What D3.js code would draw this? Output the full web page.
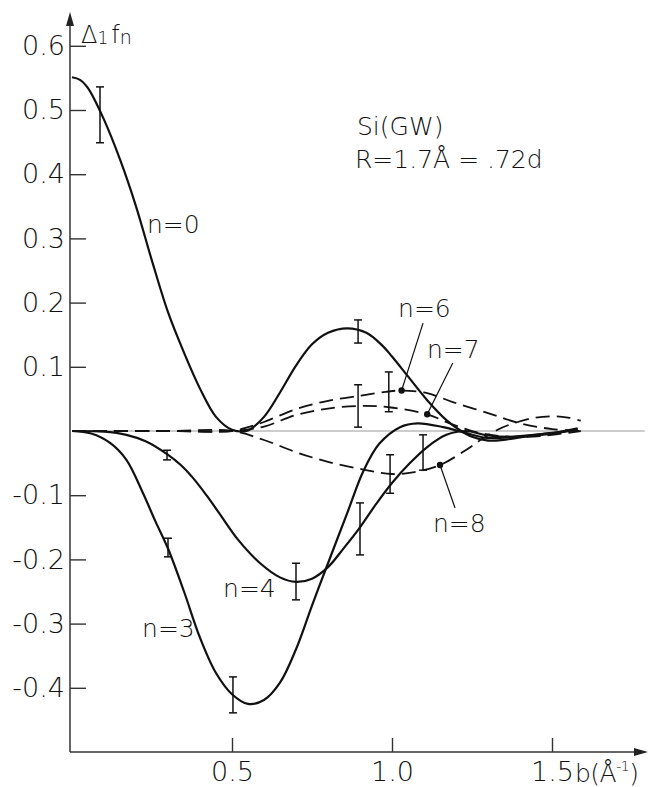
<!DOCTYPE html>
<html>
<head>
<meta charset="utf-8">
<script src="https://cdn.jsdelivr.net/npm/d3@7"></script>
<style>
  body { margin: 0; background: #fff; }
  svg { display: block; font-family: "DejaVu Sans", sans-serif; }
  .tick text { font-family: "DejaVu Sans", sans-serif; font-size: 27px; font-weight: 200; fill: #111; }
  .tick line { stroke: #333; stroke-width: 1.4; }
  .lbl { font-size: 25px; font-weight: 200; fill: #111; }
</style>
</head>
<body>
<svg id="chart" width="649" height="787"></svg>
<script>
// ticks
const xTickValues = [0.5, 1.0, 1.5];
const xTickLabels = ['0.5', '1.0', '1.5'];
const yTickValues = [0.6, 0.5, 0.4, 0.3, 0.2, 0.1, -0.1, -0.2, -0.3, -0.4];
const yTickLabels = ['0.6', '0.5', '0.4', '0.3', '0.2', '0.1', '-0.1', '-0.2', '-0.3', '-0.4'];

// curves [b, Δ1fn]
const n0 = [[0,0.551],[0.025,0.547],[0.05,0.534],[0.1,0.485],[0.15,0.423],[0.2,0.35],[0.25,0.265],[0.3,0.185],
  [0.35,0.122],[0.4,0.066],[0.45,0.022],[0.5,0.002],[0.55,0.001],[0.6,0.022],[0.65,0.06],[0.7,0.102],
  [0.75,0.135],[0.8,0.153],[0.86,0.160],[0.92,0.153],[0.97,0.133],[1.0,0.116],[1.05,0.085],[1.11,0.048],
  [1.17,0.017],[1.21,0.002],[1.25,-0.009],[1.3,-0.015],[1.36,-0.013],[1.45,-0.006],[1.52,-0.002],[1.58,0.004]];
const n3 = [[0,0],[0.06,-0.004],[0.12,-0.019],[0.17,-0.045],[0.222,-0.097],[0.26,-0.14],[0.3,-0.183],
  [0.35,-0.25],[0.4,-0.322],[0.45,-0.377],[0.5,-0.41],[0.55,-0.425],[0.6,-0.419],[0.65,-0.392],
  [0.7,-0.34],[0.75,-0.272],[0.8,-0.206],[0.86,-0.128],[0.91,-0.063],[0.96,-0.02],
  [1.025,0.006],[1.08,0.012],[1.16,0.006],[1.23,-0.003],[1.3,-0.011],[1.4,-0.008],[1.5,-0.003],[1.58,0.003]];
const n4 = [[0,0],[0.1,-0.001],[0.17,-0.006],[0.23,-0.016],[0.297,-0.036],[0.34,-0.053],[0.378,-0.073],
  [0.42,-0.1],[0.46,-0.128],[0.52,-0.17],[0.588,-0.206],[0.65,-0.228],[0.70,-0.235],[0.75,-0.23],
  [0.8,-0.212],[0.85,-0.182],[0.9,-0.15],[0.95,-0.114],[1.0,-0.081],[1.056,-0.05],[1.11,-0.025],
  [1.17,-0.006],[1.23,0.0],[1.3,-0.007],[1.4,-0.009],[1.5,-0.004],[1.58,0.002]];
const n6 = [[0,0],[0.3,0],[0.5,0],[0.55,0.006],[0.6,0.014],[0.7,0.034],[0.8,0.047],[0.9,0.055],
  [0.98,0.061],[1.03,0.063],[1.11,0.059],[1.19,0.045],[1.3,0.028],[1.4,0.012],[1.5,0.003],[1.59,0.0]];
const n7 = [[0,0],[0.3,0],[0.5,0],[0.6,0.007],[0.7,0.025],[0.8,0.035],[0.9,0.039],[0.99,0.037],
  [1.11,0.026],[1.18,0.012],[1.25,0.0],[1.32,-0.007],[1.42,-0.009],[1.5,-0.006],[1.59,0.0]];
const n8 = [[0,0],[0.3,0],[0.5,0],[0.6,-0.014],[0.7,-0.033],[0.8,-0.048],[0.91,-0.06],
  [1.0,-0.067],[1.07,-0.064],[1.15,-0.053],[1.23,-0.03],[1.28,-0.013],[1.33,0.002],[1.38,0.012],
  [1.44,0.02],[1.5,0.023],[1.55,0.021],[1.59,0.016]];

// error bars [b, low, high]
const errBars = [[0.0875,0.449,0.536],[0.894,0.137,0.173],[0.3,-0.196,-0.167],[0.503,-0.439,-0.383],
  [0.297,-0.045,-0.03],[0.7,-0.263,-0.206],[0.9,-0.193,-0.112],[0.994,-0.097,-0.037],
  [1.097,-0.061,-0.006],[0.894,0.006,0.072],[0.99,0.03,0.092]];

// markers with leader lines: [b, v, leader end b, leader end v]
const markers = [[1.03,0.063,1.097,0.168],[1.11,0.026,1.19,0.106],[1.15,-0.053,1.197,-0.12]];

// curve labels [text, b, v]
const curveLabels = [['n=0',0.234,0.308],['n=3',0.219,-0.321],['n=4',0.472,-0.259],
  ['n=6',1.019,0.178],['n=7',1.109,0.114],['n=8',1.128,-0.157]];

const svg = d3.select('#chart');

const xScale = d3.scaleLinear().domain([0, 1.8]).range([72, 648]);
const yScale = d3.scaleLinear().domain([-0.5, 0.65]).range([752, 752 - 1.15 * 642]);

// zero line
svg.append('line')
  .attr('x1', xScale(0)).attr('x2', xScale(1.79))
  .attr('y1', yScale(0)).attr('y2', yScale(0))
  .attr('stroke', '#999').attr('stroke-width', 1.2);

// axes
const xAxis = d3.axisBottom(xScale)
  .tickValues(xTickValues)
  .tickFormat((d, i) => xTickLabels[i])
  .tickSize(-14)
  .tickSizeOuter(0)
  .tickPadding(10);
const yAxis = d3.axisLeft(yScale)
  .tickValues(yTickValues)
  .tickFormat((d, i) => yTickLabels[i])
  .tickSize(-16)
  .tickSizeOuter(0)
  .tickPadding(5);

const xAxisG = svg.append('g')
  .attr('transform', `translate(0, ${yScale(-0.5)})`)
  .call(xAxis);
xAxisG.select('.domain').remove();

const yAxisG = svg.append('g')
  .attr('transform', `translate(${xScale(0) - 2}, 0)`)
  .call(yAxis);
yAxisG.select('.domain').remove();

// axis lines with arrows
const ax0 = xScale(0) - 2, ay0 = yScale(-0.5);
svg.append('line').attr('x1', ax0).attr('x2', ax0).attr('y1', ay0).attr('y2', 22)
  .attr('stroke', '#333').attr('stroke-width', 1.5);
svg.append('path').attr('d', `M${ax0},12 L${ax0 - 4},26 L${ax0 + 4},26 Z`).attr('fill', '#222');
svg.append('line').attr('x1', ax0).attr('x2', 638).attr('y1', ay0).attr('y2', ay0)
  .attr('stroke', '#333').attr('stroke-width', 1.5);
svg.append('path').attr('d', `M648,${ay0} L634,${ay0 - 4} L634,${ay0 + 4} Z`).attr('fill', '#222');

// axis titles
const yTitle = svg.append('text').attr('x', 81).attr('y', 43)
  .attr('font-size', 24).attr('font-weight', 200).attr('fill', '#111');
yTitle.append('tspan').text('Δ');
yTitle.append('tspan').attr('font-size', 17).attr('dy', 1).text('1');
yTitle.append('tspan').attr('dy', -1).attr('dx', 3).text('f');
yTitle.append('tspan').attr('font-size', 19).attr('dy', 1).text('n');

const xTitle = svg.append('text').attr('x', 575).attr('y', 782)
  .attr('font-size', 25).attr('font-weight', 200).attr('fill', '#111')
  .attr('letter-spacing', -0.5);
xTitle.append('tspan').text('b(Å');
xTitle.append('tspan').attr('font-size', 14).attr('dy', -11).text('-1');
xTitle.append('tspan').attr('dy', 11).text(')');

// curves
const line = d3.line()
  .x(d => xScale(d[0]))
  .y(d => yScale(d[1]))
  .curve(d3.curveCatmullRom.alpha(0.5));

[n0, n3, n4].forEach(s => {
  svg.append('path').attr('d', line(s))
    .attr('fill', 'none').attr('stroke', '#111').attr('stroke-width', 2.2);
});
[n6, n7, n8].forEach(s => {
  svg.append('path').attr('d', line(s))
    .attr('fill', 'none').attr('stroke', '#111').attr('stroke-width', 1.8)
    .attr('stroke-dasharray', '14,7');
});

// error bars
const eb = svg.append('g').attr('stroke', '#111').attr('stroke-width', 1.5);
errBars.forEach(([b, lo, hi]) => {
  const x = xScale(b);
  eb.append('line').attr('x1', x).attr('x2', x).attr('y1', yScale(lo)).attr('y2', yScale(hi));
  eb.append('line').attr('x1', x - 4).attr('x2', x + 4).attr('y1', yScale(lo)).attr('y2', yScale(lo));
  eb.append('line').attr('x1', x - 4).attr('x2', x + 4).attr('y1', yScale(hi)).attr('y2', yScale(hi));
});

// markers and leaders
markers.forEach(([b, v, lb, lv]) => {
  svg.append('line')
    .attr('x1', xScale(b)).attr('y1', yScale(v))
    .attr('x2', xScale(lb)).attr('y2', yScale(lv))
    .attr('stroke', '#111').attr('stroke-width', 1.2);
  svg.append('circle').attr('cx', xScale(b)).attr('cy', yScale(v)).attr('r', 3.2).attr('fill', '#111');
});

// labels
svg.selectAll('text.lbl')
  .data(curveLabels)
  .enter()
  .append('text')
    .attr('class', 'lbl')
    .attr('x', d => xScale(d[1]))
    .attr('y', d => yScale(d[2]))
    .text(d => d[0]);

svg.append('text').attr('class', 'lbl').attr('font-size', 24)
  .attr('x', 357).attr('y', 135).text('Si(GW)');
svg.append('text').attr('class', 'lbl').attr('font-size', 24)
  .attr('x', 355).attr('y', 168).text('R=1.7Å = .72d');
</script>
</body>
</html>
